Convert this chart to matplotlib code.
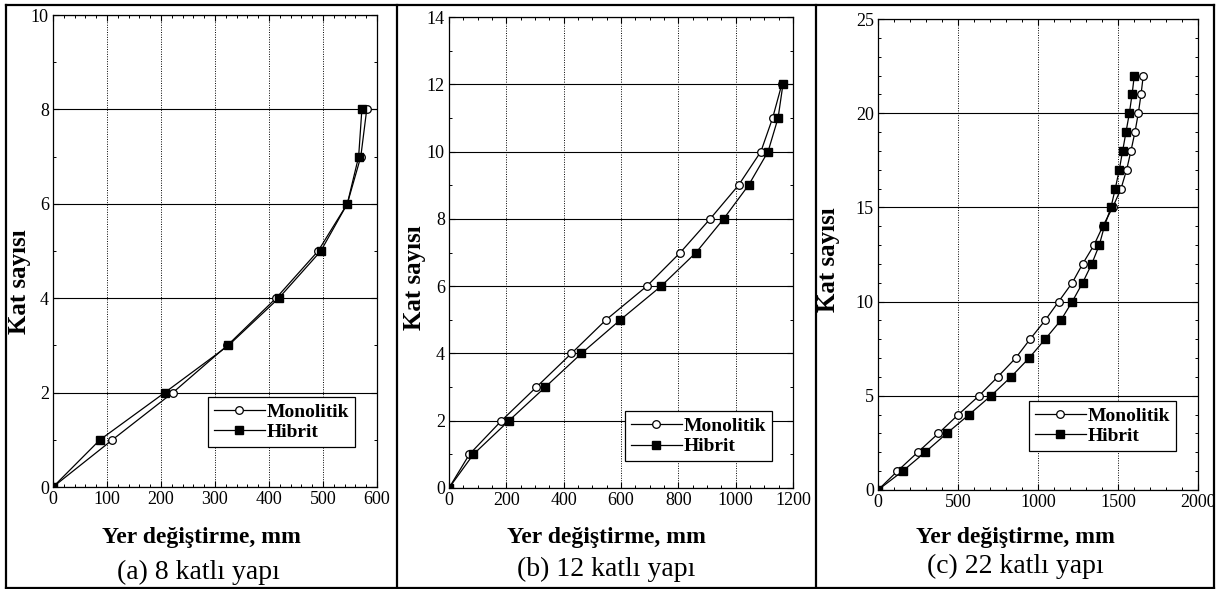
import matplotlib
matplotlib.use("Agg")
import matplotlib.pyplot as plt
from matplotlib.lines import Line2D
from matplotlib.ticker import MultipleLocator

plt.rcParams['font.family'] = ['Liberation Serif', 'DejaVu Serif']

# Data ----------------------------------------------------------------------------------------------------------------
floors_a = [0, 1, 2, 3, 4, 5, 6, 7, 8]
mono_a   = [0, 110, 222, 323, 413, 491, 545, 570, 581]
hib_a    = [0, 87, 207, 325, 418, 496, 545, 566, 572]

floors_b = [0, 1, 2, 3, 4, 5, 6, 7, 8, 9, 10, 11, 12]
mono_b   = [0, 71, 183, 305, 427, 548, 690, 807, 911, 1010, 1088, 1129, 1161]
hib_b    = [0, 85, 209, 336, 462, 598, 740, 862, 958, 1045, 1113, 1148, 1165]

floors_c = list(range(0, 23))
mono_c   = [0, 121, 248, 377, 502, 631, 748, 860, 950, 1044, 1129, 1214, 1279, 1350, 1405,
            1467, 1519, 1554, 1581, 1606, 1627, 1644, 1658]
hib_c    = [0, 154, 294, 429, 569, 706, 831, 944, 1044, 1142, 1214, 1279, 1336, 1383, 1415,
            1456, 1483, 1508, 1529, 1550, 1571, 1588, 1602]

captions = ['(a) 8 katlı yapı', '(b) 12 katlı yapı', '(c) 22 katlı yapı']
xlabel   = 'Yer değiştirme, mm'
ylabel   = 'Kat sayısı'
series_names = ['Monolitik', 'Hibrit']
# ---------------------------------------------------------------------------------------------------------------------

W, H = 1219, 589
fig = plt.figure(figsize=(W/100, H/100), dpi=100)

def px_rect(l, r, t, b):
    # pixel box (left, right, top, bottom) -> figure fraction rect
    return [l/W, 1 - b/H, (r - l)/W, (b - t)/H]

panels = [
    # rect, data, xmax, ymax, x major/minor, y major/minor, legend anchor, ylabel pos (px), xlabel center x (px)
    (px_rect(53, 377, 15, 487), (floors_a, mono_a, hib_a), 600, 10, 100, 20, 2, 1, (0.932, 0.085), (20, 282), 201),
    (px_rect(449, 793, 17, 488), (floors_b, mono_b, hib_b), 1200, 14, 200, 50, 2, 1, (0.939, 0.057), (415, 278), 606),
    (px_rect(878, 1198, 19, 490), (floors_c, mono_c, hib_c), 2000, 25, 500, 100, 5, 1, (0.931, 0.083), (829, 260), 1015),
]

for rect, (fl, mono, hib), xmax, ymax, xmaj, xmin, ymaj, ymin, leg_anchor, ylab_px, lab_x in panels:
    ax = fig.add_axes(rect)
    ax.plot(mono, fl, '-o', color='black', lw=0.9, markersize=5.5, markerfacecolor='white',
            markeredgecolor='black', markeredgewidth=0.9, label=series_names[0], zorder=3)
    ax.plot(hib, fl, '-s', color='black', lw=0.9, markersize=5.5, markerfacecolor='black',
            markeredgecolor='black', label=series_names[1], zorder=3)
    ax.set_xlim(0, xmax)
    ax.set_ylim(0, ymax)
    ax.xaxis.set_major_locator(MultipleLocator(xmaj))
    ax.xaxis.set_minor_locator(MultipleLocator(xmin))
    ax.yaxis.set_major_locator(MultipleLocator(ymaj))
    ax.yaxis.set_minor_locator(MultipleLocator(ymin))
    ax.tick_params(which='both', direction='in', top=True, right=True, labelsize=13, pad=3)
    ax.tick_params(which='major', length=4, width=0.8)
    ax.tick_params(which='minor', length=2.5, width=0.7)
    ax.grid(axis='y', which='major', color='black', lw=0.8, ls='-')
    ax.grid(axis='x', which='major', color='black', lw=0.7, ls=(0, (1, 1.5)))
    for s in ax.spines.values():
        s.set_linewidth(0.9)

    leg = ax.legend(loc='lower right', bbox_to_anchor=leg_anchor, borderaxespad=0, fancybox=False,
                    edgecolor='black', framealpha=1, prop={'weight': 'bold', 'size': 14},
                    handlelength=2.6, handletextpad=0.1, labelspacing=0.15, borderpad=0.3)
    leg.get_frame().set_linewidth(0.9)

    fig.text(ylab_px[0]/W, 1 - ylab_px[1]/H, ylabel, rotation=90, ha='center', va='center',
             fontsize=18, fontweight='bold')
    fig.text(lab_x/W, 1 - 537/H, xlabel, ha='center', va='center', fontsize=17, fontweight='bold')

# captions under each panel
for cap, cx, cy in zip(captions, [198, 606, 1015], [572, 569, 566]):
    fig.text(cx/W, 1 - cy/H, cap, ha='center', va='center', fontsize=20)

# table frame round the three panels
for x in [6, 397, 816, 1214]:
    fig.add_artist(Line2D([x/W, x/W], [1 - 5/H, 1 - 588/H], color='black', lw=1.6))
for y in [5, 588]:
    fig.add_artist(Line2D([6/W, 1214/W], [1 - y/H, 1 - y/H], color='black', lw=1.6))

fig.savefig('out.png', dpi=100)
